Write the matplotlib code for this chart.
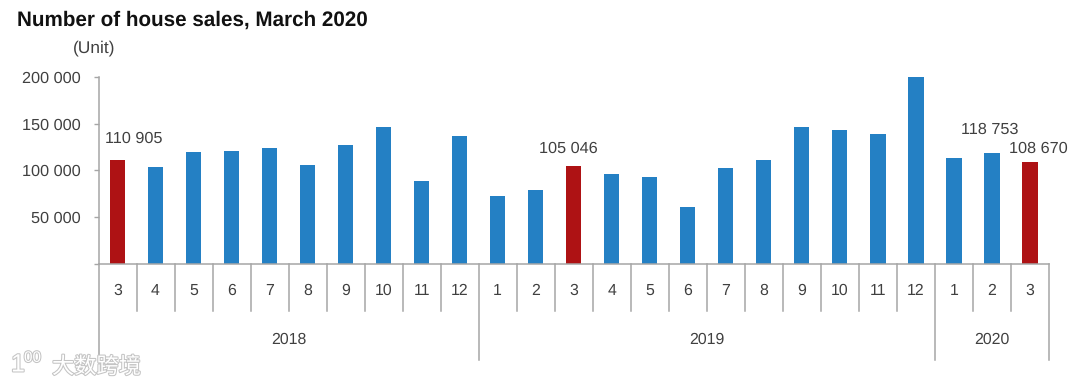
"""
Number of house sales by month, March 2018 - March 2020.
"""
import numpy as np
import matplotlib
matplotlib.use("Agg")
import matplotlib.pyplot as plt
import matplotlib.patheffects as pe

months = ["3", "4", "5", "6", "7", "8", "9", "10", "11", "12",
          "1", "2", "3", "4", "5", "6", "7", "8", "9", "10", "11", "12",
          "1", "2", "3"]
sales = [110905, 104000, 120000, 120500, 123500, 105500, 127000, 146500, 89000, 137000,
         72500, 79000, 105046, 95500, 92500, 61000, 102500, 110500, 146500, 143000, 138500, 200000,
         113500, 118753, 108670]
years = ["2018", "2019", "2020"]
year_counts = [10, 12, 3]
highlight = [0, 12, 24]
labelled = {0: (12, 15.5), 12: (-4, 12), 23: (-1.5, 16.5), 24: (6, 10)}

BLUE = "#2480c4"
RED = "#ae1214"
GREY = "#a6a6a6"
TEXT = "#404040"
W, H = 1080, 385

plt.rcParams["font.family"] = ["Liberation Sans", "DejaVu Sans"]
plt.rcParams["text.hinting"] = "no_hinting"

fig = plt.figure(figsize=(W / 100, H / 100), dpi=100)
ax = fig.add_axes([98.5 / W, 1 - 263.5 / H, 950.5 / W, 186.5 / H])

x = np.arange(len(sales))
colors = [RED if i in highlight else BLUE for i in x]
ax.bar(x, sales, width=0.4, color=colors)

ax.set_xlim(-0.5, len(sales) - 0.5)
ax.set_ylim(0, 200000)
ax.set_yticks([0, 50000, 100000, 150000, 200000])
ax.set_yticklabels(["", "50 000", "100 000", "150 000", "200 000"], fontsize=11.7, color=TEXT)
ax.tick_params(axis="y", color=GREY, length=3.5, width=1, pad=9)
ax.set_xticks([])

for side in ["top", "right"]:
    ax.spines[side].set_visible(False)
for side in ["left", "bottom"]:
    ax.spines[side].set_color(GREY)
    ax.spines[side].set_linewidth(1.1)

# two level category axis below the bars
month_drop = -47.5 / 186.5
year_drop = -96.5 / 186.5
trans = ax.get_xaxis_transform()

starts = np.cumsum([0] + year_counts)
for i in range(len(sales) + 1):
    bottom = year_drop if i in starts else month_drop
    ax.plot([i - 0.5, i - 0.5], [0, bottom], color=GREY, lw=1.1, transform=trans, clip_on=False)

for i, m in enumerate(months):
    ax.text(i, -27 / 186.5, m, transform=trans, ha="center", va="center",
            fontsize=11.4, color=TEXT)

for k, year in enumerate(years):
    mid = (starts[k] + starts[k + 1]) / 2 - 0.5
    ax.text(mid, -76 / 186.5, year, transform=trans, ha="center", va="center",
            fontsize=11.4, color=TEXT)

for i, (dx, dy) in labelled.items():
    ax.annotate(f"{sales[i]:,}".replace(",", " "), xy=(i, sales[i]), xytext=(dx, dy),
                textcoords="offset points", ha="center", va="center",
                fontsize=11.7, color=TEXT)

fig.text(17 / W, 1 - 20 / H, "Number of house sales, March 2020", fontsize=14.9,
         fontweight="bold", color="#111111", ha="left", va="center")
fig.text(73 / W, 1 - 48 / H, "(Unit)", fontsize=12.5, color=TEXT, ha="left", va="center")

# faint site watermark in the lower left corner
halo = [pe.withStroke(linewidth=1.5, foreground="#c4c4c4")]
fig.text(52 / W, 1 - 367 / H, "大数跨境", fontsize=16,
         family=["Noto Sans CJK SC", "DejaVu Sans"], color="white", ha="left", va="center",
         path_effects=halo)
fig.text(11 / W, 1 - 365 / H, "1", fontsize=18, color="white", ha="left", va="center",
         path_effects=halo)
fig.text(24 / W, 1 - 358 / H, "00", fontsize=11, color="white", ha="left", va="center",
         path_effects=halo)

plt.savefig("out.png", dpi=100, facecolor="white")
